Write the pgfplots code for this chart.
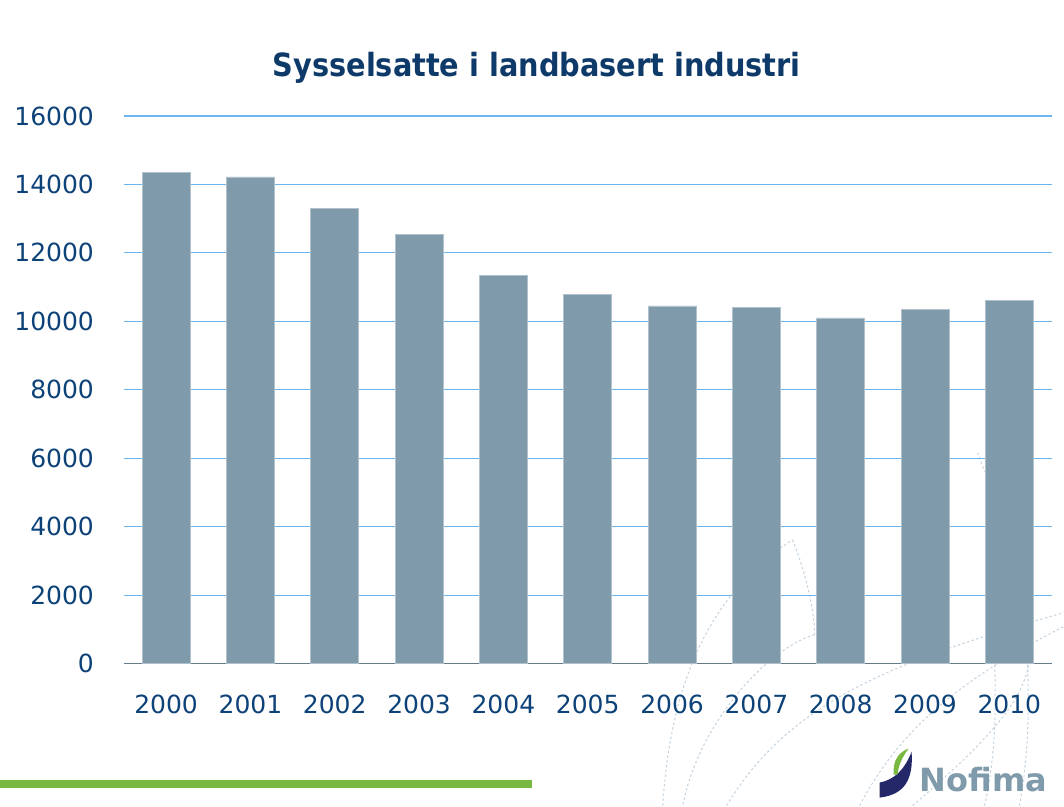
\documentclass[border=0pt]{standalone}
\usepackage{pgfplots}
\pgfplotsset{compat=1.18}
\usepackage{fontspec}
\setmainfont{DejaVu Sans}
\newfontfamily\titlefont{DejaVu Sans Condensed}
\definecolor{barc}{HTML}{7F9AAB}
\definecolor{gridc}{HTML}{6AB4F0}
\definecolor{labc}{HTML}{0D4278}
\definecolor{titc}{HTML}{0E3A6A}
\definecolor{greenc}{HTML}{7AB940}
\definecolor{navyc}{HTML}{252868}
\definecolor{arcc}{HTML}{C4D2DE}
\pgfplotstableread{
x val
0 14350
1 14220
2 13300
3 12530
4 11350
5 10790
6 10450
7 10410
8 10100
9 10350
10 10610
}\datatab
\begin{document}
\begin{tikzpicture}
\begin{scope}[x=0.5pt,y=0.5pt]
\useasboundingbox (0,0) rectangle (1064,806);
\node[text=titc,font=\titlefont\bfseries\fontsize{16}{19}\selectfont] at (537,738) {Sysselsatte i landbasert industri};
\fill[greenc] (0,18) rectangle (532,26);
\end{scope}
% background decoration, pixel coordinates from top-left
\begin{scope}[x=0.5pt,y=-0.5pt,yshift=403pt]
\begin{scope}[draw=arcc, line width=0.5pt, dash pattern=on 1.2pt off 1.2pt]
\draw (663,806) .. controls (670,700) and (700,600) .. (793,540);
\draw (793,540) .. controls (805,570) and (815,610) .. (815,635);
\draw (815,635) .. controls (770,648) and (700,720) .. (683,806);
\draw (727,806) .. controls (790,700) and (900,660) .. (1064,613);
\draw (860,806) .. controls (900,730) and (960,680) .. (1064,627);
\draw (913,806) .. controls (990,740) and (1025,700) .. (1030,660);
\draw (985,806) .. controls (995,760) and (997,720) .. (995,660);
\draw (1020,806) .. controls (1028,760) and (1030,720) .. (1028,660);
\draw (978,453) -- (985,472);
\end{scope}
% Nofima logo
\fill[navyc] (880,798) .. controls (905,795) and (914,780) .. (912,752) .. controls (905,770) and (895,780) .. (880,783) -- cycle;
\fill[greenc] (894,775) .. controls (893,760) and (900,752) .. (909,749) .. controls (903,757) and (899,765) .. (898,775) -- cycle;
\node[anchor=west, text=barc, font=\bfseries\fontsize{16}{19}\selectfont, inner sep=0pt] at (920,780) {Nofima};
\end{scope}
\begin{axis}[
  at={(62pt,71pt)}, anchor=south west,
  scale only axis, width=464pt, height=274pt,
  xmin=-0.5, xmax=10.5, ymin=0, ymax=16000,
  ytick={0,2000,...,16000},
  xtick=data,
  xticklabels={2000,2001,2002,2003,2004,2005,2006,2007,2008,2009,2010},
  /pgf/number format/assume math mode=true,
  scaled y ticks=false,
  yticklabel style={/pgf/number format/fixed,/pgf/number format/1000 sep={}},
  ymajorgrids, grid style={gridc, line width=0.6pt},
  axis x line*=bottom, axis y line*=left,
  x axis line style={draw=barc!80!black, line width=0.6pt},
  y axis line style={draw=none},
  axis line style={-},
  tick style={draw=none},
  ticklabel style={text=labc, font=\fontsize{12.5}{14}\selectfont},
  yticklabel style={xshift=-11.5pt},
  xticklabel style={yshift=-12pt},
  clip=false,
]
\addplot[ybar, bar width=24pt, fill=barc, draw=barc!60!white, line width=0.3pt] table[x=x,y=val] {\datatab};
\end{axis}
\end{tikzpicture}
\end{document}
